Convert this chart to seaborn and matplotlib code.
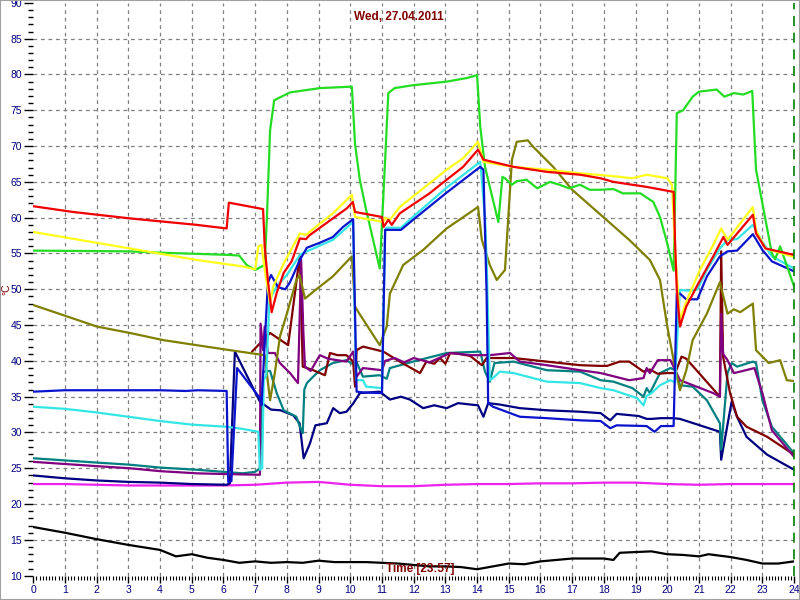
import matplotlib
matplotlib.use("Agg")
import matplotlib.pyplot as plt
from matplotlib.patches import Rectangle
from matplotlib.ticker import MultipleLocator
import seaborn as sns
import pandas as pd

# ---------------- data (hour of day, temperature °C) ----------------
black_h = [0, 1, 2, 3, 4, 4.5, 5, 5.5, 6, 6.5, 7, 7.5, 8, 8.5, 9, 9.5, 10, 10.5, 11, 11.5, 12, 12.5,
           13, 13.5, 14, 14.5, 15, 15.5, 16, 16.5, 17, 17.5, 18, 18.3, 18.5, 19, 19.5, 20, 20.5, 21,
           21.3, 22, 22.5, 23, 23.5, 24]
black_v = [16.8, 16.0, 15.1, 14.3, 13.6, 12.7, 13.0, 12.5, 12.2, 11.8, 12.0, 11.8, 11.9, 11.8, 12.1, 11.9,
           11.9, 11.9, 11.8, 11.7, 11.5, 11.3, 11.3, 11.2, 10.9, 11.3, 11.7, 11.6, 12.0, 12.2, 12.4, 12.4,
           12.4, 12.2, 13.2, 13.3, 13.4, 13.0, 12.9, 12.7, 13.0, 12.6, 12.2, 11.7, 11.7, 12.0]

magenta_h = [0, 1, 2, 3, 4, 5, 6, 7, 8, 9, 10, 11, 12, 13, 14, 15, 16, 17, 18, 19, 20, 21, 22, 23, 24]
magenta_v = [22.8, 22.8, 22.7, 22.6, 22.6, 22.6, 22.6, 22.7, 23.0, 23.1, 22.7, 22.5, 22.5, 22.7, 22.8,
             22.8, 22.9, 22.9, 23.0, 23.0, 22.8, 22.7, 22.8, 22.8, 22.8]

navy_h = [0, 1, 2, 3, 4, 5, 6.1, 6.2, 6.36, 7.15, 7.5, 7.8, 8.2, 8.4, 8.53, 8.73, 8.9, 9.26, 9.46, 9.67,
          9.88, 10.1, 10.3, 10.93, 11.25, 11.6, 11.88, 12.3, 12.65, 13.04, 13.4, 13.8, 14.03, 14.2,
          14.35, 14.72, 15.35, 16.2, 17.25, 17.9, 18.2, 18.4, 19.1, 19.35, 19.5, 19.8, 20.2, 20.4,
          21.66, 21.7, 22.03, 22.2, 22.5, 23.15, 24]
navy_v = [24.0, 23.6, 23.3, 23.1, 23.0, 22.8, 22.7, 22.9, 41.3, 34.3, 33.2, 33.1, 32.4, 31.3, 26.4, 28.5,
          31.0, 31.3, 33.4, 32.7, 32.9, 34.1, 35.5, 35.7, 34.6, 35.0, 34.6, 33.4, 33.8, 33.4, 34.1, 33.9,
          33.8, 32.2, 34.1, 33.9, 33.4, 33.1, 32.9, 32.7, 31.7, 32.6, 32.3, 31.9, 31.9, 32.0, 32.0, 31.9,
          30.1, 26.2, 34.3, 32.2, 29.4, 26.9, 24.8]

teal_h = [0, 1, 2, 3.05, 4, 5.15, 6.6, 7.0, 7.15, 7.25, 7.47, 7.68, 7.9, 8.3, 8.41, 8.5, 8.55, 8.63, 8.83,
          9.04, 9.45, 9.88, 10.05, 10.2, 10.4, 10.93, 11.15, 11.25, 11.98, 13.04, 14.1, 14.25, 14.4,
          14.55, 15.15, 16.2, 17.25, 17.9, 18.3, 18.9, 19.25, 19.35, 19.45, 19.77, 20.1, 20.25, 20.4,
          20.8, 21.25, 21.66, 21.7, 21.9, 22.03, 22.2, 22.7, 22.8, 23.0, 23.3, 24]
teal_v = [26.4, 26.1, 25.8, 25.5, 25.1, 24.8, 24.3, 24.5, 25.0, 38.5, 38.6, 35.5, 33.1, 32.2, 30.8, 29.9,
          36.0, 36.9, 37.8, 38.7, 39.7, 40.1, 39.6, 39.8, 37.8, 38.0, 37.5, 39.0, 39.9, 41.1, 41.3, 38.5,
          37.1, 39.7, 39.9, 38.7, 38.5, 37.3, 37.1, 36.2, 35.0, 36.2, 35.5, 38.3, 39.0, 38.7, 36.6, 36.4,
          34.5, 31.3, 27.6, 38.3, 39.7, 39.2, 39.9, 39.7, 34.5, 30.8, 27.1]

maroon_h = [6.9, 7.47, 8.04, 8.41, 8.5, 8.83, 9.2, 9.36, 9.6, 9.88, 10.09, 10.15, 10.2, 10.4, 11.04,
            11.56, 12.2, 12.4, 12.65, 12.83, 13.0, 13.15, 13.4, 13.78, 14.15, 14.3, 15.15, 16.2, 17.25,
            17.9, 18.1, 18.5, 18.8, 19.25, 19.45, 19.7, 20.0, 20.25, 20.45, 20.6, 21.66, 21.7, 21.76,
            21.98, 22.2, 22.5, 23.15, 24]
maroon_v = [41.3, 43.9, 42.2, 54.8, 39.2, 38.7, 38.0, 41.1, 40.8, 40.8, 39.9, 36.4, 41.5, 42.0, 41.3,
            39.9, 38.3, 39.9, 39.6, 40.4, 39.6, 41.1, 41.0, 40.7, 39.4, 40.4, 40.4, 39.9, 39.4, 39.3,
            39.3, 39.9, 39.9, 38.5, 38.8, 38.2, 38.3, 38.3, 40.6, 40.3, 35.0, 55.3, 40.6, 35.5, 32.2,
            30.8, 29.4, 26.9]

purple_h = [0, 1, 2, 3.05, 4, 5.15, 6, 7.15, 7.17, 7.25, 7.3, 7.4, 7.62, 7.78, 8.1, 8.35, 8.45, 8.52,
            8.57, 8.75, 9.04, 9.3, 9.88, 10.09, 10.2, 10.4, 11.0, 11.1, 11.4, 11.7, 12.0, 12.5, 13.15,
            13.8, 14.4, 15.04, 15.35, 16.2, 17.25, 17.9, 18.8, 19.25, 19.35, 19.45, 19.7, 20.1, 20.25,
            20.4, 21.45, 21.66, 21.7, 21.76, 21.9, 22.1, 22.3, 22.75, 23.0, 23.3, 24]
purple_v = [25.9, 25.6, 25.3, 25.0, 24.6, 24.3, 24.2, 24.1, 45.2, 41.5, 44.8, 41.1, 41.1, 39.7, 38.3,
            36.9, 54.1, 44.0, 39.2, 38.6, 40.8, 40.3, 39.9, 41.3, 37.8, 39.0, 38.7, 40.0, 40.4, 39.8,
            40.4, 39.8, 41.1, 40.8, 40.8, 41.1, 39.9, 39.4, 38.7, 38.3, 37.3, 37.6, 39.0, 38.3, 40.1,
            40.1, 38.7, 37.3, 35.5, 35.0, 46.6, 41.0, 40.1, 38.3, 38.5, 39.0, 35.5, 30.3, 26.6]

olive_h = [0, 0.94, 2.0, 3.05, 4.1, 5.15, 6.2, 7.3, 7.47, 7.62, 7.78, 8.0, 8.3, 8.4, 8.57, 8.9, 9.45,
           10.05, 10.15, 10.3, 10.93, 11.15, 11.25, 11.67, 12.3, 13.04, 13.67, 14.03, 14.15, 14.4,
           14.62, 14.88, 15.1, 15.25, 15.6, 15.77, 16.4, 17.0, 17.9, 18.8, 19.45, 19.77, 20.0, 20.2,
           20.4, 20.6, 20.8, 21.25, 21.66, 21.9, 22.1, 22.3, 22.7, 22.8, 23.2, 23.56, 23.77, 24]
olive_v = [47.8, 46.4, 44.8, 43.9, 42.9, 42.2, 41.5, 40.8, 34.5, 38.3, 43.4, 46.6, 51.3, 52.0, 48.7,
           49.9, 51.8, 54.6, 47.6, 46.5, 42.2, 44.8, 49.4, 53.4, 55.5, 58.5, 60.4, 61.5, 56.9, 53.4,
           51.3, 52.7, 68.1, 70.6, 70.8, 69.9, 67.1, 63.9, 60.4, 56.9, 54.1, 51.3, 44.8, 40.1, 35.9,
           38.7, 42.9, 46.6, 51.0, 46.6, 47.2, 46.8, 48.0, 41.5, 39.7, 40.1, 37.3, 37.2]

cyan_h = [0, 1, 2, 3, 4, 5, 6.1, 6.6, 7.1, 7.15, 7.22, 7.27, 7.35, 7.45, 7.68, 8.0, 8.41, 8.63, 9.45,
          10.09, 10.18, 10.4, 10.5, 11.0, 11.1, 11.15, 11.6, 12.0, 13.04, 14.1, 14.25, 14.3, 14.4,
          14.5, 14.72, 15.15, 16.2, 17.25, 17.9, 18.3, 19.05, 19.25, 19.35, 19.5, 19.77, 20.1, 20.25,
          20.3, 20.4, 20.7, 20.95, 21.25, 21.66, 21.9, 22.2, 22.7, 22.95, 23.3, 24]
cyan_v = [33.6, 33.3, 32.8, 32.2, 31.6, 31.1, 30.8, 30.5, 30.1, 24.8, 25.0, 37.3, 38.0, 48.5, 50.4,
          52.0, 54.8, 55.3, 56.9, 59.4, 37.3, 37.3, 36.4, 36.2, 58.3, 58.6, 58.6, 60.2, 64.2, 67.8,
          60.0, 54.1, 37.3, 37.6, 38.5, 38.3, 37.1, 36.9, 36.2, 35.9, 34.8, 33.8, 35.1, 35.5, 36.6,
          37.3, 37.0, 42.0, 49.9, 49.8, 50.0, 52.7, 55.7, 56.9, 57.0, 59.0, 57.0, 54.6, 52.9]

blue_h = [0, 1, 2, 3, 4, 4.8, 5.2, 6.1, 6.15, 6.25, 6.43, 7.15, 7.2, 7.4, 7.5, 7.72, 7.95, 8.1, 8.41,
          8.63, 9.04, 9.45, 9.77, 10.09, 10.2, 10.4, 11.0, 11.1, 11.6, 11.98, 13.04, 14.1, 14.2, 14.3,
          14.35, 14.5, 15.35, 16.2, 17.25, 17.9, 18.2, 18.4, 19.35, 19.6, 19.8, 20.2, 20.3, 20.4,
          20.6, 20.95, 21.25, 21.66, 21.9, 22.2, 22.7, 23.0, 23.3, 24]
blue_v = [35.7, 35.9, 35.9, 35.9, 35.9, 35.8, 35.9, 35.8, 23.1, 23.2, 39.0, 34.8, 33.8, 50.9, 52.0,
          50.3, 50.0, 51.0, 54.1, 55.8, 56.5, 57.3, 58.7, 59.8, 35.7, 35.6, 35.5, 58.3, 58.3, 59.7,
          63.5, 67.1, 66.7, 49.5, 34.1, 33.6, 32.2, 32.0, 31.7, 31.6, 30.6, 31.0, 30.9, 30.1, 30.9,
          30.9, 49.4, 49.4, 48.6, 48.6, 51.8, 54.6, 55.3, 55.4, 57.7, 55.5, 53.9, 52.5]

green_h = [0, 3, 4.1, 6.2, 6.5, 6.73, 7.0, 7.3, 7.37, 7.47, 7.6, 8.1, 9.05, 10.05, 10.15, 10.3, 10.5,
           10.93, 11.1, 11.2, 11.4, 11.98, 13.04, 13.67, 14.0, 14.1, 14.25, 14.5, 14.67, 14.8, 14.88,
           15.1, 15.25, 15.56, 15.9, 16.3, 16.6, 16.9, 17.25, 17.55, 17.9, 18.3, 18.6, 19.15, 19.56,
           19.77, 20.0, 20.2, 20.25, 20.3, 20.5, 20.8, 21.0, 21.56, 21.8, 22.1, 22.4, 22.68, 22.8,
           23.0, 23.3, 23.4, 23.56, 24]
green_v = [55.4, 55.3, 55.1, 54.8, 54.7, 53.4, 52.7, 53.4, 60.0, 72.2, 76.4, 77.5, 78.1, 78.3, 70.3,
           65.3, 61.1, 52.9, 68.1, 77.4, 78.1, 78.5, 79.0, 79.5, 79.9, 72.7, 67.1, 62.5, 59.4, 65.7,
           65.5, 64.6, 65.1, 65.3, 64.1, 65.0, 64.6, 64.1, 64.6, 63.9, 63.9, 64.0, 63.4, 63.4, 62.2,
           60.1, 56.4, 52.6, 63.4, 74.6, 75.0, 76.9, 77.6, 77.9, 76.9, 77.4, 77.2, 77.7, 66.7, 62.0,
           55.0, 54.2, 56.0, 50.4]

yellow_h = [0, 3.05, 5.15, 6.6, 7.0, 7.1, 7.2, 7.3, 7.47, 7.57, 7.9, 8.41, 8.6, 9.45, 10.05, 10.15,
            11.04, 11.1, 11.25, 11.56, 12.5, 13.04, 13.56, 14.03, 14.2, 15.15, 16.2, 17.25, 18.3,
            18.9, 19.35, 20.0, 20.15, 20.25, 20.4, 20.6, 21.03, 21.45, 21.7, 21.9, 22.7, 22.8, 23.1, 24]
yellow_v = [58.0, 55.7, 54.1, 53.2, 52.8, 56.0, 56.2, 52.8, 48.1, 50.4, 53.6, 57.8, 57.6, 60.6, 63.2,
            60.1, 59.4, 60.0, 59.7, 61.5, 64.8, 66.7, 68.3, 70.6, 67.8, 67.1, 66.7, 66.2, 65.8, 65.5,
            66.0, 65.5, 64.6, 55.1, 45.7, 48.3, 52.7, 56.2, 58.5, 56.9, 61.5, 58.2, 55.7, 54.5]

red_h = [0, 1.25, 3.05, 5.15, 6.1, 6.17, 7.25, 7.3, 7.4, 7.52, 7.68, 7.9, 8.15, 8.41, 8.6, 8.7, 9.45,
         9.89, 10.08, 10.15, 11.0, 11.05, 11.2, 11.31, 11.56, 12.5, 13.04, 13.56, 14.03, 14.2, 15.15,
         16.2, 17.25, 17.9, 18.3, 19.35, 20.2, 20.25, 20.3, 20.4, 20.6, 20.93, 21.45, 21.77, 21.9,
         22.7, 22.8, 23.1, 24]
red_v = [61.6, 60.8, 59.9, 59.0, 58.5, 62.1, 61.2, 56.0, 51.3, 46.8, 49.5, 52.3, 53.9, 57.1, 57.0, 57.5,
         59.9, 61.3, 62.2, 60.8, 60.1, 58.7, 59.7, 59.0, 60.6, 63.4, 65.3, 67.1, 69.5, 68.1, 67.1, 66.4,
         66.0, 65.5, 65.0, 64.3, 63.6, 56.0, 49.9, 44.8, 47.6, 50.4, 54.6, 57.3, 56.2, 60.4, 57.8,
         55.7, 54.8]

series_names = ["black", "magenta", "navy", "teal", "maroon", "purple", "olive",
                "cyan", "blue", "green", "yellow", "red"]
series_colors = ["#000000", "#EE22EE", "#000080", "#008080", "#800000", "#800080", "#808000",
                 "#33E6E6", "#0A14CC", "#22DD22", "#FFFF1A", "#F00000"]
series_data = {
    "black": (black_h, black_v), "magenta": (magenta_h, magenta_v), "navy": (navy_h, navy_v),
    "teal": (teal_h, teal_v), "maroon": (maroon_h, maroon_v), "purple": (purple_h, purple_v),
    "olive": (olive_h, olive_v), "cyan": (cyan_h, cyan_v), "blue": (blue_h, blue_v),
    "green": (green_h, green_v), "yellow": (yellow_h, yellow_v), "red": (red_h, red_v),
}

x_ticks = list(range(0, 25))
y_ticks = list(range(10, 91, 5))
title_text = "Wed, 27.04.2011"
time_text = "Time [23:57]"
y_label = "°C"

# ---------------- build table ----------------
frames = []
for name in series_names:
    h, v = series_data[name]
    frames.append(pd.DataFrame({"hour": h, "temp": v, "sensor": name}))
df = pd.concat(frames, ignore_index=True)

sns.set_style("white")
plt.rcParams["font.family"] = ["Liberation Sans", "DejaVu Sans"]

fig = plt.figure(figsize=(8, 6), dpi=100)
ax = fig.add_axes([0.0416, 0.0405, 0.951, 0.9547])

sns.lineplot(data=df, x="hour", y="temp", hue="sensor", hue_order=series_names,
             palette=dict(zip(series_names, series_colors)), sort=False, estimator=None,
             linewidth=1.6, legend=False, ax=ax)

ax.set_xlim(0, 24)
ax.set_ylim(10, 90)
ax.set_xticks(x_ticks)
ax.set_yticks(y_ticks)
ax.xaxis.set_minor_locator(MultipleLocator(0.1))
ax.yaxis.set_minor_locator(MultipleLocator(1))
ax.set_xlabel("")
ax.set_ylabel("")
for s in ax.spines.values():
    s.set_visible(False)

ax.tick_params(axis="y", which="major", direction="out", length=6.5, width=1, color="black",
               labelsize=7.5, labelcolor="#000080", pad=1.5, left=True)
ax.tick_params(axis="y", which="minor", direction="out", length=3.5, width=1, color="black", left=True)
ax.tick_params(axis="x", which="major", direction="out", length=5, width=1, color="black",
               labelsize=7.5, labelcolor="#000080", pad=2, bottom=True)
ax.tick_params(axis="x", which="minor", direction="out", length=3, width=0.8, color="black", bottom=True)

ax.grid(True, which="major", color="#808080", linestyle=(0, (3, 3)), linewidth=0.9)
ax.set_axisbelow(True)
xt = ax.xaxis.get_major_ticks()
yt = ax.yaxis.get_major_ticks()
for t in (xt[0], xt[-1], yt[0], yt[-1]):
    t.gridline.set_visible(False)

ax.axvline(24, color="#008000", linestyle=(0, (6, 4)), linewidth=1.2, clip_on=False)

fig.text(0.499, 0.972, title_text, ha="center", va="center", color="#800000",
         fontsize=8.5, fontweight="bold")
fig.text(0.525, 0.052, time_text, ha="center", va="center", color="#800000",
         fontsize=8.5, fontweight="bold")
fig.text(0.0085, 0.518, y_label, ha="center", va="center", color="#800000",
         fontsize=7.5, rotation=90)

fig.patches.append(Rectangle((0, 0), 1, 1, transform=fig.transFigure, fill=False,
                             edgecolor="#a0a0a0", linewidth=1.5))

fig.savefig("out.png", dpi=100)
